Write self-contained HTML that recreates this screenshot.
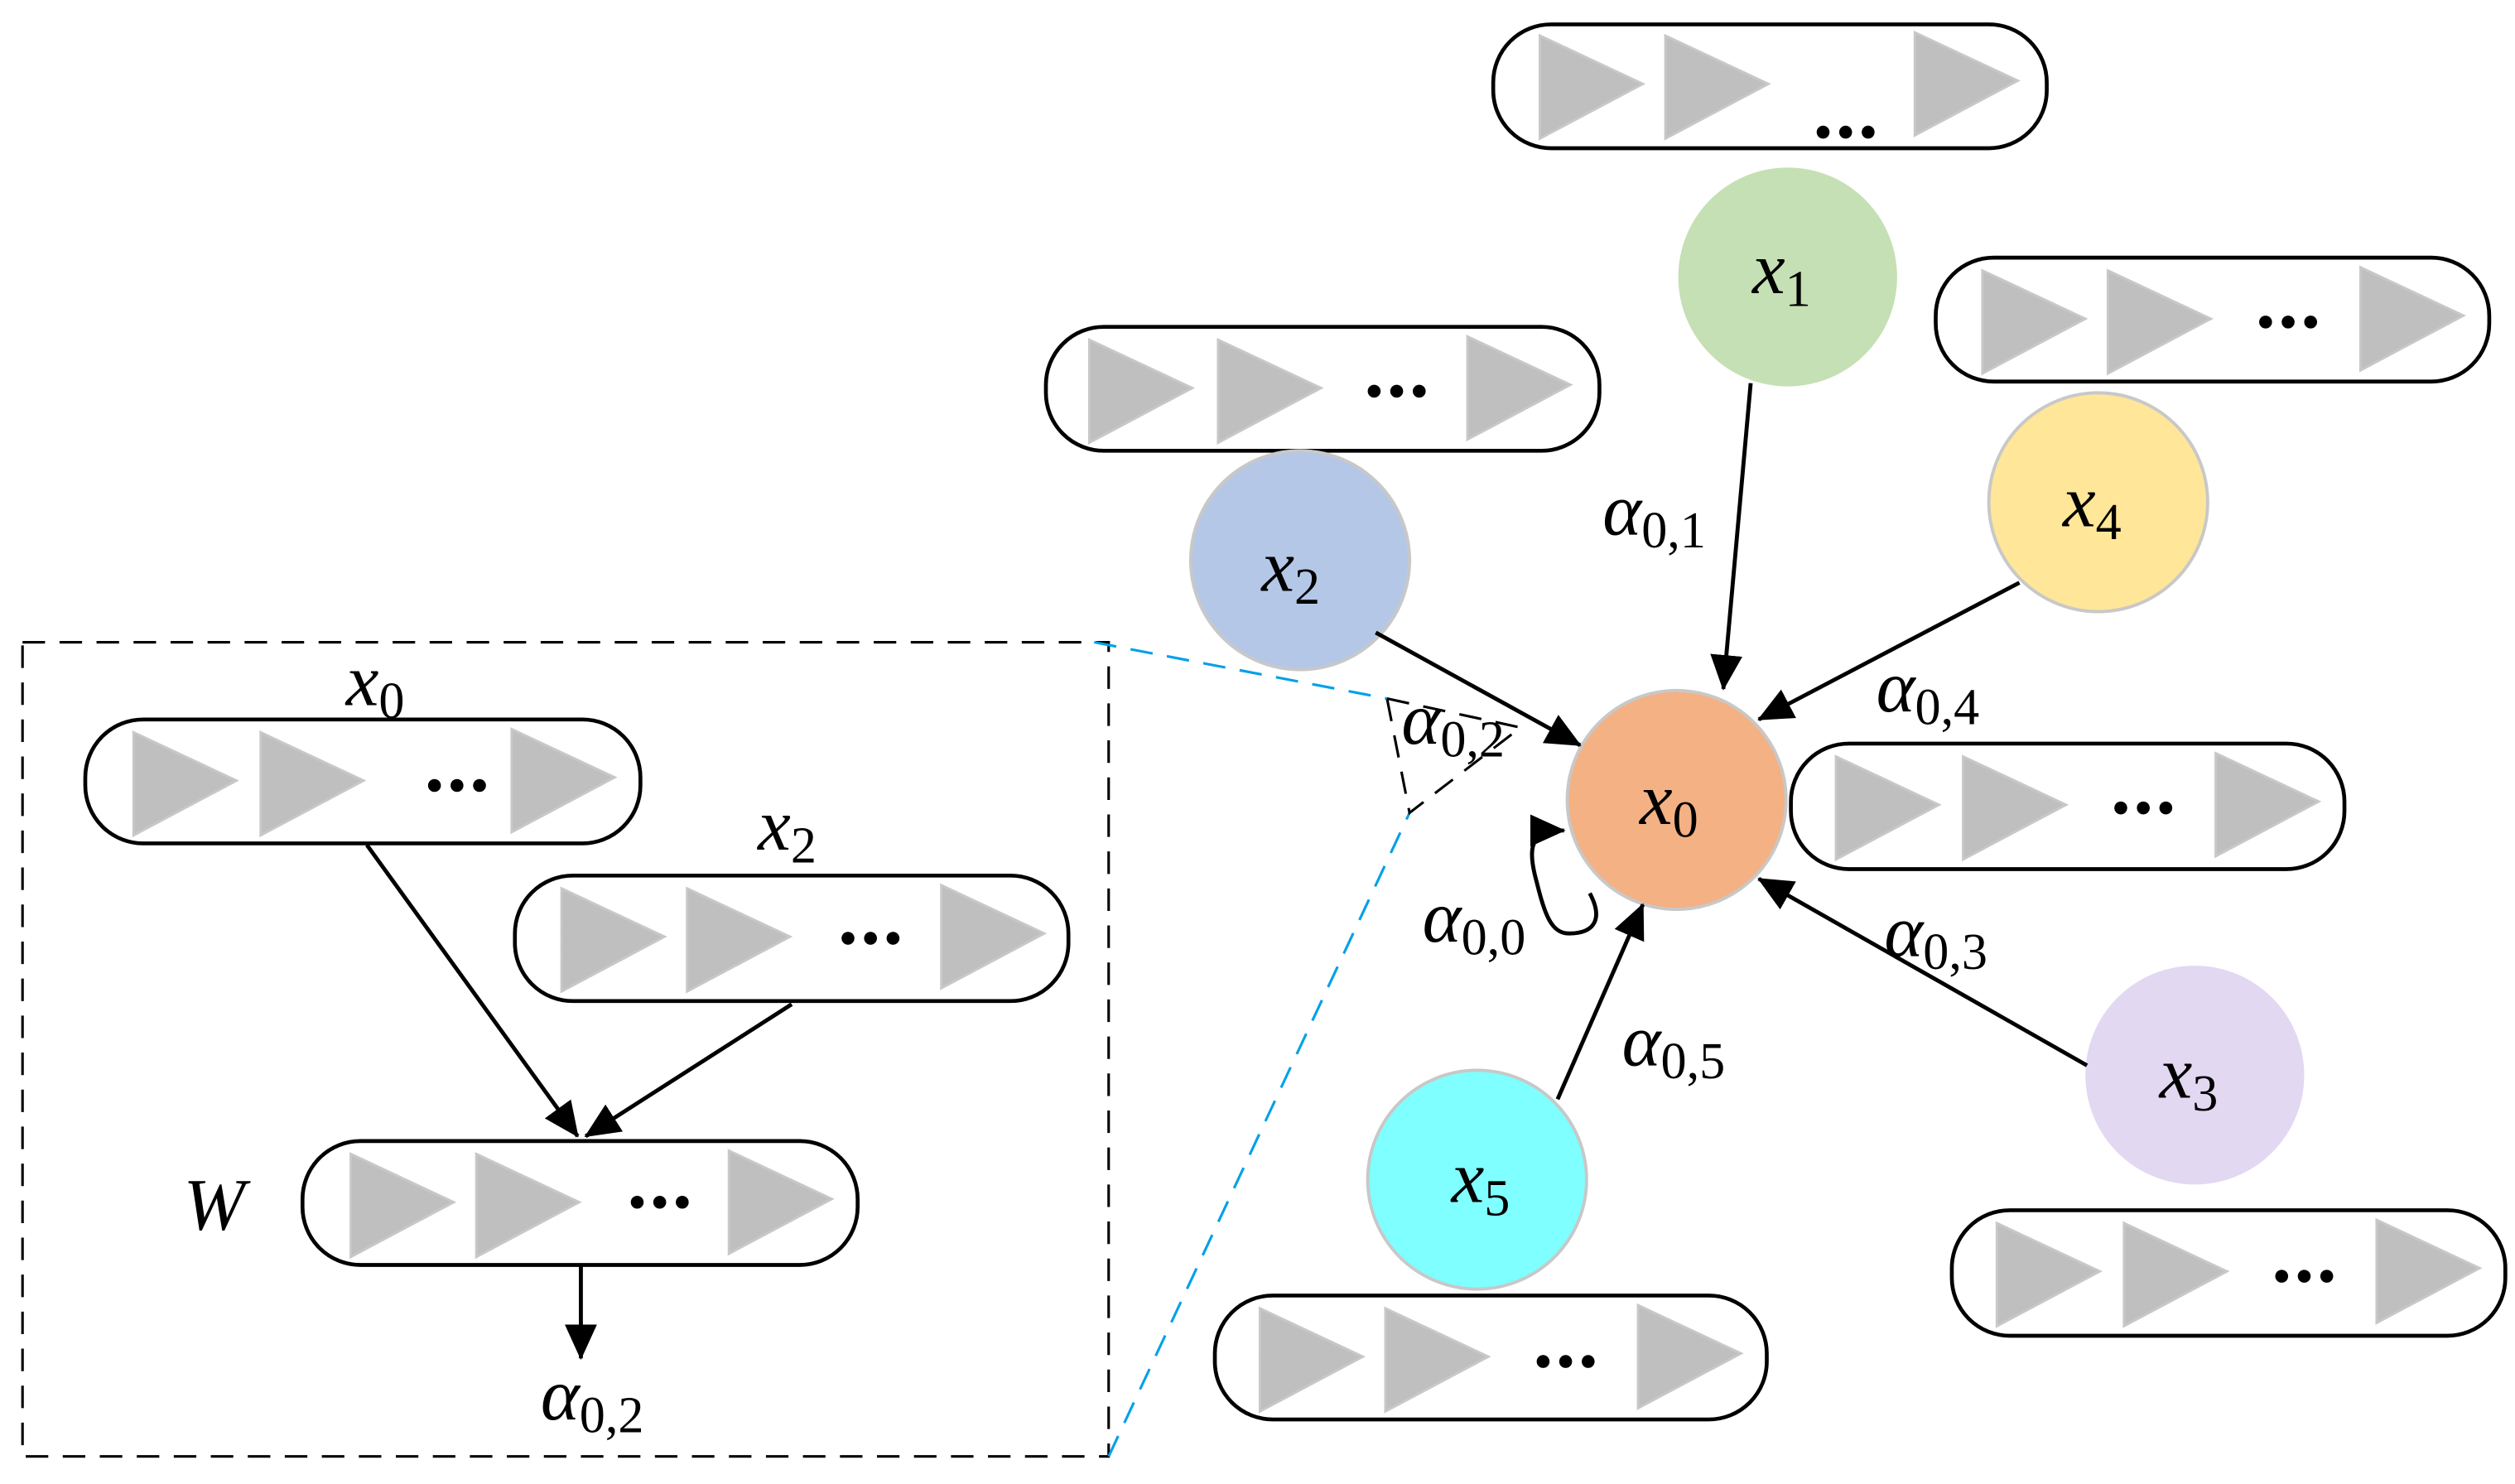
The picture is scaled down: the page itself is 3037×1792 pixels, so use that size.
<!DOCTYPE html>
<html><head><meta charset="utf-8"><style>html,body{margin:0;padding:0;background:#fff}svg{display:block}text{font-family:"Liberation Serif",serif;font-style:italic;fill:#000}</style></head><body>
<svg width="3037" height="1792" viewBox="0 0 1563 922" xmlns="http://www.w3.org/2000/svg">
<defs>
<polygon id="t" points="0,8 0,72 64,38" fill="#bfbfbf" stroke="#c8c8c8" stroke-width="1.5"/>
<g id="d"><circle cx="-14" cy="0" r="4"/><circle cx="0" cy="0" r="4"/><circle cx="14" cy="0" r="4"/></g>
<marker id="A" markerWidth="22" markerHeight="20" refX="21" refY="10" orient="auto" markerUnits="userSpaceOnUse"><path d="M0,0 L22,10 L0,20z"/></marker>
</defs>
<rect x="14" y="399" width="675" height="506" fill="none" stroke="#000" stroke-width="1.6" stroke-dasharray="14,9"/>
<line x1="680" y1="399" x2="862" y2="434" stroke="#00a0e9" stroke-width="1.6" stroke-dasharray="14,9"/>
<line x1="689" y1="905" x2="876" y2="505" stroke="#00a0e9" stroke-width="1.6" stroke-dasharray="14,9"/>
<polygon points="862,434 945,452 876,505" fill="none" stroke="#000" stroke-width="1.6" stroke-dasharray="14,9"/>

<g fill="none" stroke="#000" stroke-width="2.4">
<rect x="928" y="15" width="344" height="77" rx="36"/>
<rect x="650" y="203" width="344" height="77" rx="36"/>
<rect x="1203" y="160" width="344" height="77" rx="36"/>
<rect x="1113" y="462" width="344" height="78" rx="36"/>
<rect x="1213" y="752" width="344" height="78" rx="36"/>
<rect x="755" y="805" width="343" height="77" rx="36"/>
<rect x="53" y="447" width="345" height="77" rx="36"/>
<rect x="320" y="544" width="344" height="78" rx="36"/>
<rect x="188" y="709" width="345" height="77" rx="36"/>
</g>
<use href="#t" x="957" y="14"/><use href="#t" x="1035" y="14"/><use href="#t" x="1190" y="12"/><use href="#d" x="1147" y="82"/>
<use href="#t" x="677" y="203"/><use href="#t" x="757" y="203"/><use href="#t" x="912" y="201"/><use href="#d" x="868" y="243"/>
<use href="#t" x="1232" y="160"/><use href="#t" x="1310" y="160"/><use href="#t" x="1467" y="158"/><use href="#d" x="1422" y="200"/>
<use href="#t" x="1141" y="462"/><use href="#t" x="1220" y="462"/><use href="#t" x="1377" y="460"/><use href="#d" x="1332" y="502"/>
<use href="#t" x="1241" y="752"/><use href="#t" x="1320" y="752"/><use href="#t" x="1477" y="750"/><use href="#d" x="1432" y="793"/>
<use href="#t" x="783" y="805"/><use href="#t" x="861" y="805"/><use href="#t" x="1018" y="803"/><use href="#d" x="973" y="846"/>
<use href="#t" x="83" y="447"/><use href="#t" x="162" y="447"/><use href="#t" x="318" y="445"/><use href="#d" x="284" y="488"/>
<use href="#t" x="349" y="544"/><use href="#t" x="427" y="544"/><use href="#t" x="585" y="542"/><use href="#d" x="541" y="583"/>
<use href="#t" x="218" y="709"/><use href="#t" x="296" y="709"/><use href="#t" x="453" y="707"/><use href="#d" x="410" y="747"/>

<g stroke="#c8c8c8" stroke-width="2">
<circle cx="1111" cy="172" r="68" fill="#c5e0b4" stroke="none"/>
<circle cx="808" cy="348" r="68" fill="#b4c7e7"/>
<circle cx="1304" cy="312" r="68" fill="#ffe699"/>
<circle cx="1042" cy="497" r="68" fill="#f4b183"/>
<circle cx="1364" cy="668" r="68" fill="#e2d8f1" stroke="none"/>
<circle cx="918" cy="733" r="68" fill="#7fffff"/>
</g>

<g stroke="#000" stroke-width="2.5" fill="none" marker-end="url(#A)">
<line x1="228" y1="525" x2="359" y2="706"/>
<line x1="492" y1="624" x2="364" y2="706"/>
<line x1="361" y1="786" x2="361" y2="844"/>
<line x1="1088" y1="238" x2="1071" y2="428"/>
<line x1="855" y1="393" x2="982" y2="463"/>
<line x1="1255" y1="362" x2="1093" y2="447"/>
<line x1="1297" y1="662" x2="1093" y2="546"/>
<line x1="968" y1="683" x2="1021" y2="562"/>
<path d="M988,555 C996,570 992,580 975,580 C964,580 960,568 955,548 C950,530 950,518 966,516 L972,516"/>
</g>

<g font-size="46">
<text x="1089" y="182">x<tspan font-size="32" font-style="normal" dy="8">1</tspan></text>
<text x="784" y="367">x<tspan font-size="32" font-style="normal" dy="8">2</tspan></text>
<text x="1282" y="327">x<tspan font-size="32" font-style="normal" dy="8">4</tspan></text>
<text x="1019" y="512">x<tspan font-size="32" font-style="normal" dy="8">0</tspan></text>
<text x="1342" y="682">x<tspan font-size="32" font-style="normal" dy="8">3</tspan></text>
<text x="902" y="747">x<tspan font-size="32" font-style="normal" dy="8">5</tspan></text>
<text x="215" y="438">x<tspan font-size="32" font-style="normal" dy="8">0</tspan></text>
<text x="471" y="528">x<tspan font-size="32" font-style="normal" dy="8">2</tspan></text>
<text x="114" y="764">W</text>
<text x="336" y="882">α<tspan font-size="32" font-style="normal" dy="8">0,2</tspan></text>
<text x="996" y="332">α<tspan font-size="32" font-style="normal" dy="8">0,1</tspan></text>
<text x="1166" y="442">α<tspan font-size="32" font-style="normal" dy="8">0,4</tspan></text>
<text x="1171" y="594">α<tspan font-size="32" font-style="normal" dy="8">0,3</tspan></text>
<text x="1008" y="662">α<tspan font-size="32" font-style="normal" dy="8">0,5</tspan></text>
<text x="884" y="585">α<tspan font-size="32" font-style="normal" dy="8">0,0</tspan></text>
<text x="871" y="462">α<tspan font-size="32" font-style="normal" dy="8">0,2</tspan></text>
</g>
</svg>
</body></html>
